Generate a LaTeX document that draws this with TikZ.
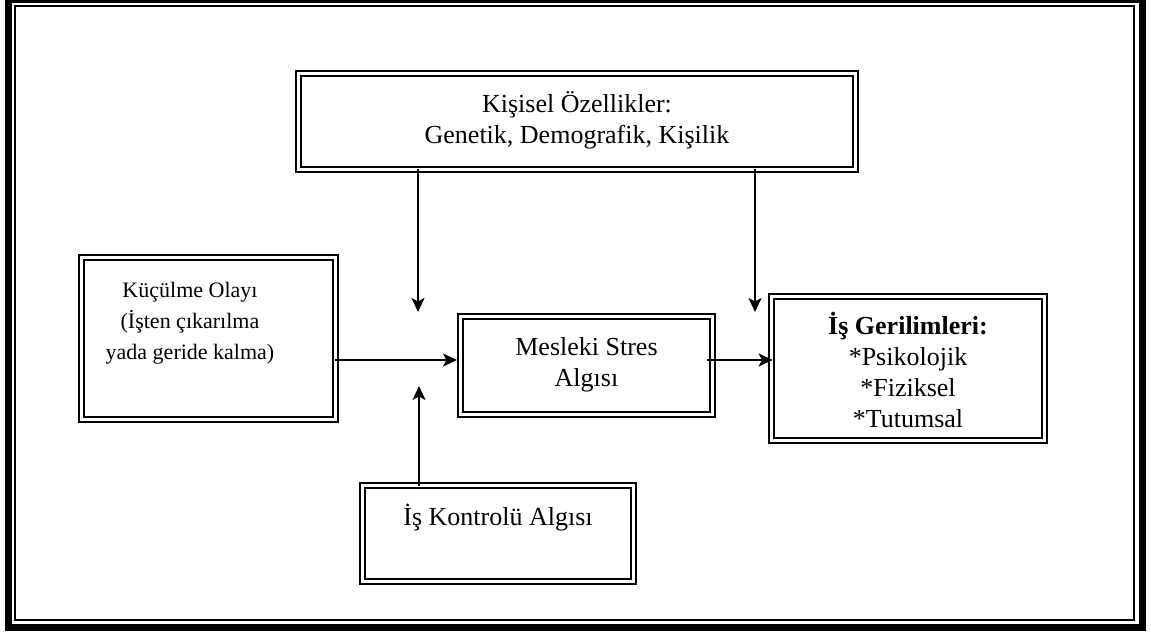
\documentclass[tikz,border=0pt]{standalone}
\usepackage{fontspec}
\setmainfont{Liberation Serif}
\usetikzlibrary{arrows.meta}
\begin{document}
\begin{tikzpicture}[x=1pt,y=-1pt,
  box/.style={draw, line width=2.2pt, double distance=2.8pt, inner sep=0pt, outer sep=0pt},
  txt/.style={font=\fontsize{26}{30.5}\selectfont, align=center, anchor=base, inner sep=0pt},
  link/.style={line width=2pt, -{Stealth[length=14pt,width=13pt,inset=3.5pt]}}]
\useasboundingbox (0,0) rectangle (1151,635);
\clip (0,0) rectangle (1151,635);

% page frame: thick outer rule, thin inner rule
\draw[line width=7pt] (8.5,-0.5) rectangle (1142,627);
\draw[line width=2pt] (15,6) rectangle (1134,620);

% boxes
\node[box, minimum width=556.8pt, minimum height=95.8pt] (kis) at (577,121.5) {};
\node[box, minimum width=253.8pt, minimum height=161.8pt] (kuc) at (208.5,338.5) {};
\node[box, minimum width=251.8pt, minimum height=97.8pt] (mes) at (586.5,365.5) {};
\node[box, minimum width=272.8pt, minimum height=143.8pt] (isg) at (908,368.5) {};
\node[box, minimum width=270.8pt, minimum height=95.8pt] (isk) at (498,533.5) {};

% box texts (anchored at the baseline of the last line)
\node[txt] (kisT) at (577,143) {Kişisel Özellikler:\\Genetik, Demografik, Kişilik};
\node[txt, font=\fontsize{22}{31}\selectfont] (kucT) at (190,359) {Küçülme Olayı\\(İşten çıkarılma\\yada geride kalma)};
\node[txt, font=\fontsize{26}{31}\selectfont] (mesT) at (586.5,386) {Mesleki Stres\\Algısı};
\node[txt, font=\fontsize{26}{30.7}\selectfont] (isgT) at (908,427) {\textbf{İş Gerilimleri:}\\*Psikolojik\\*Fiziksel\\*Tutumsal};
\node[txt] (iskT) at (498,525) {İş Kontrolü Algısı};

% arrow ends
\coordinate (hy) at (0,360);
\coordinate (d1) at (418,312);
\coordinate (d2) at (755,312);
\coordinate (u1) at (419,386);

% connectors
\draw[link, shorten >=3.6pt] (kuc.east |- hy) -- (mes.west |- hy);
\draw[link, shorten >=-1pt] ([xshift=-5pt]mes.east |- hy) -- (isg.west |- hy);
\draw[link] (kis.south -| d1) -- (d1);
\draw[link] (kis.south -| d2) -- (d2);
\draw[link] (isk.north -| u1) -- (u1);
\end{tikzpicture}
\end{document}
